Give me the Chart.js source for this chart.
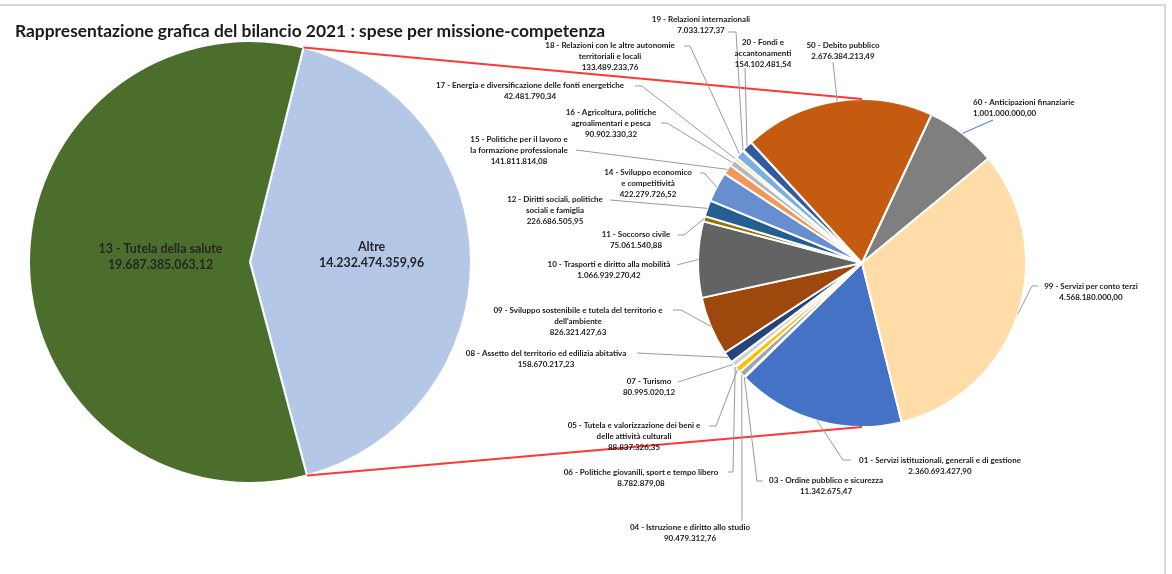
<!DOCTYPE html>
<html lang="it">
<head>
<meta charset="utf-8">
<script src="https://cdn.jsdelivr.net/npm/chart.js@4/dist/chart.umd.min.js"></script>
<style>
  html, body { margin: 0; padding: 0; background: #fff; }
  #wrap { position: relative; width: 1172px; height: 574px; overflow: hidden; }
  #wrap canvas { position: absolute; left: 0; top: 0; }
  #titolo {
    position: absolute; left: 15px; top: 20px;
    font: bold 17.4px Lato, "Open Sans", sans-serif; color: #1a1a1a; white-space: nowrap;
  }
  #cornice { position: absolute; left: 0; top: 4px; width: 1164px; height: 600px;
    border-top: 2px solid #d9d9d9; border-right: 2px solid #d9d9d9; }
</style>
</head>
<body>
<div id="wrap">
  <div id="cornice"></div>
  <canvas id="torta1" width="1172" height="574"></canvas>
  <canvas id="torta2" width="1172" height="574"></canvas>
  <div id="titolo">Rappresentazione grafica del bilancio 2021 : spese per missione-competenza</div>
</div>
<script>
// torta principale
const vociPrincipali = ['Altre', '13 - Tutela della salute'];
const valoriPrincipali = [14232474359.96, 19687385063.12];
const coloriPrincipali = ['#B4C7E7', '#4B6E2D'];

// torta secondaria (dettaglio di "Altre")
const missioni = [
  '01 - Servizi istituzionali, generali e di gestione',
  '03 - Ordine pubblico e sicurezza',
  '04 - Istruzione e diritto allo studio',
  '05 - Tutela e valorizzazione dei beni e\ndelle attività culturali',
  '06 - Politiche giovanili, sport e tempo libero',
  '07 - Turismo',
  '08 - Assetto del territorio ed edilizia abitativa',
  '09 - Sviluppo sostenibile e tutela del territorio e\ndell\'ambiente',
  '10 - Trasporti e diritto alla mobilità',
  '11 - Soccorso civile',
  '12 - Diritti sociali, politiche\nsociali e famiglia',
  '14 - Sviluppo economico\ne competitività',
  '15 - Politiche per il lavoro e\nla formazione professionale',
  '16 - Agricoltura, politiche\nagroalimentari e pesca',
  '17 - Energia e diversificazione delle fonti energetiche',
  '18 - Relazioni con le altre autonomie\nterritoriali e locali',
  '19 - Relazioni internazionali',
  '20 - Fondi e\naccantonamenti',
  '50 - Debito pubblico',
  '60 - Anticipazioni finanziarie',
  '99 - Servizi per conto terzi'
];
const spese = [
  2360693427.90, 11342675.47, 90479312.76, 88837326.35, 8782879.08, 80995020.12,
  158670217.23, 826321427.63, 1066939270.42, 75061540.88, 226686505.95, 422279726.52,
  141811814.08, 90902330.32, 42481790.34, 133489233.76, 7033127.37, 154102481.54,
  2676384213.49, 1001000000.00, 4568180000.00
];
const coloriMissioni = [
  '#4472C4', '#ED7D31', '#A5A5A5', '#FFC000', '#5B9BD5', '#D0D0D0',
  '#264478', '#9E480E', '#636363', '#997300', '#255E91', '#698ED0',
  '#F1975A', '#B7B7B7', '#FFCD33', '#7CAFDD', '#8CC168', '#335AA1',
  '#C55A11', '#7F7F7F', '#FFDCA8'
];

// posizione etichette: x, y prima riga, allineamento, inizio linea guida, gomito
const etichette = [
  { x: 940, y: 460, al: 'center', da: [851, 460], gomito: [843, 460] },
  { x: 826, y: 480, al: 'center', da: [763, 481], gomito: [757, 481] },
  { x: 690, y: 527, al: 'center', da: [742, 521] },
  { x: 634, y: 425, al: 'center', da: [709, 426], gomito: [716, 426] },
  { x: 641, y: 472, al: 'center', da: [728, 472], gomito: [733, 472] },
  { x: 649, y: 381, al: 'center', da: [678, 382] },
  { x: 546, y: 353, al: 'center', da: [637, 353] },
  { x: 578, y: 310, al: 'center', da: [673, 310], gomito: [681, 310] },
  { x: 609, y: 264, al: 'center', da: [677, 265] },
  { x: 636, y: 234, al: 'center', da: [678, 235], gomito: [684, 235] },
  { x: 555, y: 199, al: 'center', da: [610, 200] },
  { x: 648, y: 172, al: 'center', da: [700, 173], gomito: [704, 173] },
  { x: 519, y: 139, al: 'center', da: [576, 150] },
  { x: 611, y: 112, al: 'center', da: [661, 123], gomito: [667, 123] },
  { x: 530, y: 85, al: 'center', da: [635, 86], gomito: [642, 86] },
  { x: 610, y: 45, al: 'center', da: [684, 46], gomito: [690, 46] },
  { x: 701, y: 19, al: 'center', da: [728, 32], gomito: [736, 32] },
  { x: 763, y: 42, al: 'center', da: [745, 68] },
  { x: 843, y: 45, al: 'center', da: [833, 62] },
  { x: 973, y: 102, al: 'left', da: [993, 120], colore: '#4472C4' },
  { x: 1091, y: 286, al: 'center', da: [1038, 286], gomito: [1032, 286] }
];

const formatta = (v) => {
  const [i, d] = v.toFixed(2).split('.');
  return i.replace(/\B(?=(\d{3})+(?!\d))/g, '.') + ',' + d;
};

const FONT = 'Lato, "Open Sans", sans-serif';

const etichettePrincipali = {
  id: 'etichettePrincipali',
  afterDatasetsDraw(chart) {
    const ctx = chart.ctx;
    const rapporti = [0.55, 0.405];
    ctx.save();
    ctx.font = 'bold 12.4px ' + FONT;
    ctx.fillStyle = '#262626';
    ctx.textAlign = 'center';
    ctx.textBaseline = 'middle';
    chart.getDatasetMeta(0).data.forEach((arc, i) => {
      const p = arc.getProps(['x', 'y', 'startAngle', 'endAngle', 'outerRadius'], true);
      const m = (p.startAngle + p.endAngle) / 2;
      const x = p.x + Math.cos(m) * p.outerRadius * rapporti[i];
      const y = p.y + Math.sin(m) * p.outerRadius * rapporti[i];
      ctx.fillText(vociPrincipali[i], x, y - 14);
      ctx.fillText(formatta(valoriPrincipali[i]), x, y + 2);
    });
    ctx.restore();
  }
};

const etichetteMissioni = {
  id: 'etichetteMissioni',
  afterDatasetsDraw(chart) {
    const ctx = chart.ctx;
    ctx.save();
    // linee di collegamento con la torta principale
    const a = torta1.getDatasetMeta(0).data[0].getProps(['x', 'y', 'startAngle', 'endAngle', 'outerRadius'], true);
    const b = chart.getDatasetMeta(0).data[0].getProps(['x', 'y', 'outerRadius'], true);
    ctx.strokeStyle = 'rgba(255,20,20,0.85)';
    ctx.lineWidth = 2;
    ctx.beginPath();
    ctx.moveTo(a.x + Math.cos(a.startAngle) * a.outerRadius, a.y + Math.sin(a.startAngle) * a.outerRadius);
    ctx.lineTo(b.x, b.y - b.outerRadius);
    ctx.moveTo(a.x + Math.cos(a.endAngle) * a.outerRadius, a.y + Math.sin(a.endAngle) * a.outerRadius);
    ctx.lineTo(b.x, b.y + b.outerRadius);
    ctx.stroke();

    chart.getDatasetMeta(0).data.forEach((arc, i) => {
      const p = arc.getProps(['x', 'y', 'startAngle', 'endAngle', 'outerRadius'], true);
      const m = (p.startAngle + p.endAngle) / 2;
      const px = p.x + Math.cos(m) * p.outerRadius;
      const py = p.y + Math.sin(m) * p.outerRadius;
      const e = etichette[i];
      ctx.strokeStyle = e.colore || '#9A9A9A';
      ctx.lineWidth = 1;
      ctx.beginPath();
      ctx.moveTo(e.da[0], e.da[1]);
      if (e.gomito) ctx.lineTo(e.gomito[0], e.gomito[1]);
      ctx.lineTo(px, py);
      ctx.stroke();

      const righe = missioni[i].split('\n').concat([formatta(spese[i])]);
      ctx.font = 'bold 8px ' + FONT;
      ctx.fillStyle = '#1a1a1a';
      ctx.textAlign = e.al;
      ctx.textBaseline = 'middle';
      righe.forEach((r, k) => ctx.fillText(r, e.x, e.y + k * 11));
    });
    ctx.restore();
  }
};

const baseOpzioni = {
  responsive: false,
  devicePixelRatio: 1,
  animation: false,
  plugins: { legend: { display: false }, tooltip: { enabled: false } }
};

const torta1 = new Chart(document.getElementById('torta1'), {
  type: 'pie',
  data: {
    labels: vociPrincipali,
    datasets: [{ data: valoriPrincipali, backgroundColor: coloriPrincipali, borderColor: '#fff', borderWidth: 2 }]
  },
  options: {
    ...baseOpzioni,
    rotation: 14,
    layout: { padding: { left: 28, right: 700, top: 40, bottom: 90 } }
  },
  plugins: [etichettePrincipali]
});

const torta2 = new Chart(document.getElementById('torta2'), {
  type: 'pie',
  data: {
    labels: missioni,
    datasets: [{ data: spese, backgroundColor: coloriMissioni, borderColor: '#fff', borderWidth: 2 }]
  },
  options: {
    ...baseOpzioni,
    rotation: 166,
    layout: { padding: { left: 697, right: 145, top: 98, bottom: 146 } }
  },
  plugins: [etichetteMissioni]
});
</script>
</body>
</html>
